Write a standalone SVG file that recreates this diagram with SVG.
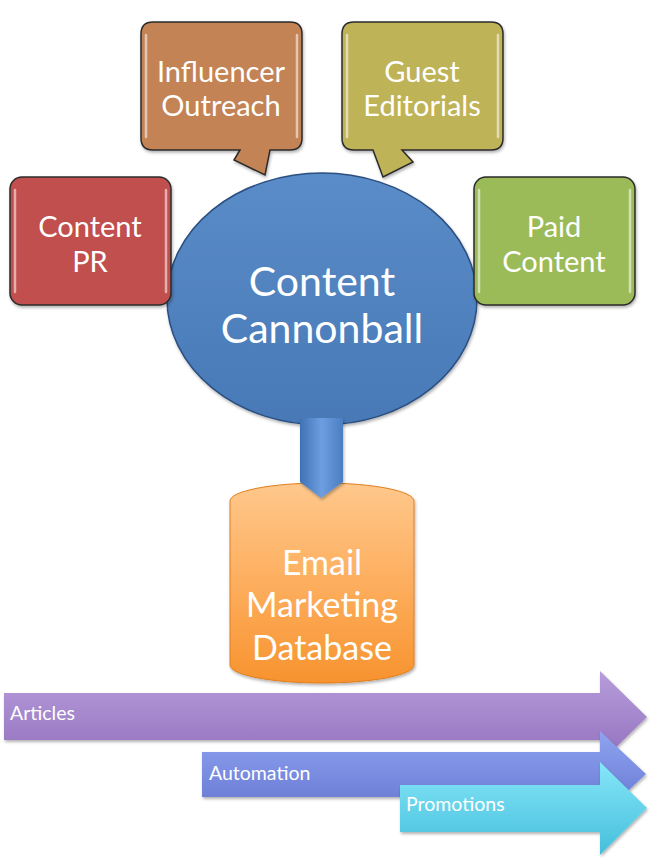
<svg xmlns="http://www.w3.org/2000/svg" width="650" height="858" viewBox="0 0 650 858">
<style>
.box{stroke:#2b2b2b;stroke-width:1.5}
.gl{fill:none;stroke:#ffffff;stroke-opacity:0.55;stroke-width:2.5;stroke-linecap:round}
.t{font-family:Lato,"Open Sans","Liberation Sans",sans-serif;fill:#ffffff;text-anchor:middle}
.a{font-family:Lato,"Open Sans","Liberation Sans",sans-serif;fill:#ffffff;font-size:19.5px}
</style>
<defs>
<filter id="sh" x="-10%" y="-10%" width="130%" height="130%"><feDropShadow dx="1" dy="2" stdDeviation="1.5" flood-color="#000" flood-opacity="0.3"/></filter>
<linearGradient id="gEll" x1="0" y1="0" x2="0" y2="1"><stop offset="0" stop-color="#5a8cc8"/><stop offset="1" stop-color="#4779b6"/></linearGradient>
<linearGradient id="gDown" x1="0" y1="0" x2="1" y2="0"><stop offset="0" stop-color="#3f72b5"/><stop offset="0.5" stop-color="#6d9ee0"/><stop offset="1" stop-color="#4a7ec2"/></linearGradient>
<linearGradient id="gCyl" x1="0" y1="0" x2="0" y2="1"><stop offset="0" stop-color="#ffc88c"/><stop offset="0.5" stop-color="#fdae5e"/><stop offset="1" stop-color="#f7932f"/></linearGradient>
<linearGradient id="gArt" x1="0" y1="0" x2="0" y2="1"><stop offset="0" stop-color="#b79ddb"/><stop offset="1" stop-color="#9270bd"/></linearGradient>
<linearGradient id="gAut" x1="0" y1="0" x2="0" y2="1"><stop offset="0" stop-color="#8fa3f0"/><stop offset="1" stop-color="#6475d0"/></linearGradient>
<linearGradient id="gPro" x1="0" y1="0" x2="0" y2="1"><stop offset="0" stop-color="#86e6f8"/><stop offset="1" stop-color="#45bfdc"/></linearGradient>
</defs>

<g id="content-cannonball">
<ellipse cx="322" cy="299" rx="155" ry="126" fill="url(#gEll)" stroke="#2b4f80" stroke-width="1.5" filter="url(#sh)"/>
<text class="t" x="322" y="296" font-size="41">Content</text>
<text class="t" x="322" y="343" font-size="41">Cannonball</text>
</g>

<g id="influencer-outreach">
<path class="box" d="M153,22 H290 Q302,22 302,34 V138 Q302,150 290,150 H270 L265,175 L234,160 L240,150 H153 Q141,150 141,138 V34 Q141,22 153,22 Z" fill="#c38354" filter="url(#sh)"/>
<line class="gl" x1="146" y1="35" x2="146" y2="137"/><line class="gl" x1="297" y1="35" x2="297" y2="137"/>
<text class="t" x="221" y="82" font-size="29">Influencer</text>
<text class="t" x="221" y="116" font-size="29">Outreach</text>
</g>

<g id="guest-editorials">
<path class="box" d="M354,22 H491 Q503,22 503,34 V138 Q503,150 491,150 H402 L413,162 L383,177 L373,150 H354 Q342,150 342,138 V34 Q342,22 354,22 Z" fill="#bfb359" filter="url(#sh)"/>
<line class="gl" x1="347" y1="35" x2="347" y2="137"/><line class="gl" x1="498" y1="35" x2="498" y2="137"/>
<text class="t" x="422" y="82" font-size="29">Guest</text>
<text class="t" x="422" y="116" font-size="29">Editorials</text>
</g>

<g id="content-pr">
<rect class="box" x="10" y="177" width="161" height="128" rx="12" fill="#c0504d" filter="url(#sh)"/>
<line class="gl" x1="15" y1="190" x2="15" y2="292"/><line class="gl" x1="166" y1="190" x2="166" y2="292"/>
<text class="t" x="90" y="237" font-size="29">Content</text>
<text class="t" x="90" y="272" font-size="29">PR</text>
</g>

<g id="paid-content">
<rect class="box" x="474" y="177" width="161" height="128" rx="12" fill="#9bbb59" filter="url(#sh)"/>
<line class="gl" x1="479" y1="190" x2="479" y2="292"/><line class="gl" x1="630" y1="190" x2="630" y2="292"/>
<text class="t" x="554" y="237" font-size="29">Paid</text>
<text class="t" x="554" y="272" font-size="29">Content</text>
</g>

<g id="email-database">
<path d="M230,501 A92,18 0 0 1 414,501 V665 A92,18 0 0 1 230,665 Z" fill="url(#gCyl)" stroke="#e07f20" stroke-width="1" filter="url(#sh)"/>
<text class="t" x="322" y="575" font-size="34">Email</text>
<text class="t" x="322" y="617" font-size="34">Marketing</text>
<text class="t" x="322" y="660" font-size="34">Database</text>
</g>

<g id="connectors">
<polygon points="300,418 343,418 343,482 321,498 300,482" fill="url(#gDown)" filter="url(#sh)"/>
</g>

<g id="articles">
<polygon points="4,693 600,693 600,671 647,717 600,763 600,740 4,740" fill="url(#gArt)" filter="url(#sh)"/>
<text class="a" x="10" y="720">Articles</text>
</g>
<g id="automation">
<polygon points="202,752 600,752 600,731 646,774 600,817 600,797 202,797" fill="url(#gAut)" filter="url(#sh)"/>
<text class="a" x="209" y="780">Automation</text>
</g>
<g id="promotions">
<polygon points="400,785 600,785 600,762 647,808 600,855 600,832 400,832" fill="url(#gPro)" filter="url(#sh)"/>
<text class="a" x="406" y="811">Promotions</text>
</g>
</svg>
